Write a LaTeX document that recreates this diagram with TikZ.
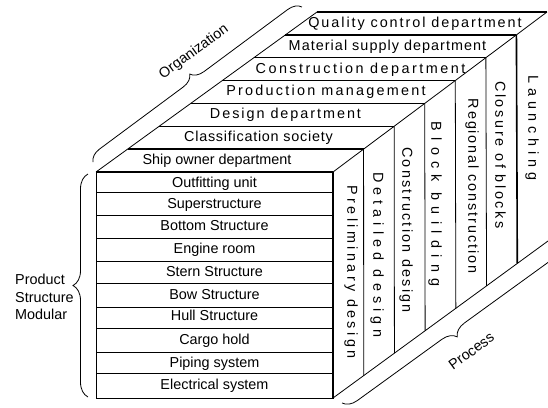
\documentclass[tikz,border=0pt]{standalone}
\usepackage{fontspec}
\setmainfont{Liberation Sans}
\usetikzlibrary{calc,decorations.pathreplacing}
\newcommand{\lsp}[2]{{\addfontfeature{LetterSpace=#1}#2}}
\begin{document}
\begin{tikzpicture}[x=1pt,y=-1pt,
  every node/.style={font=\fontsize{14.4}{17.5}\selectfont, inner sep=0pt},
  lbl/.style={text height=10.5pt, text depth=3pt},
  vlbl/.style={lbl, rotate=-90},
  ln/.style={line width=0.8pt},
  thk/.style={line width=1.6pt},
  brc/.style={decorate, decoration={brace, amplitude=#1, aspect=0.5}, line width=0.8pt},
  brc/.default=14pt]
\useasboundingbox (0,0) rectangle (548,407);
\clip (0,0) rectangle (548,407);
% corners
\coordinate (A) at (96,172);
\coordinate (B) at (333,172);
\coordinate (C) at (333,398);
\coordinate (D) at (96,398);
\coordinate (E) at (317,12);
\coordinate (F) at (547,12);
\coordinate (G) at (548,241);
% front face
\draw[ln] (A) rectangle (C);
\foreach \y in {192,215,238,261,283,307,328,352,373}
  \draw[ln] (96,\y) -- (333,\y);
% top face
\draw[ln] (A) -- (E);
\draw[ln] (B) -- (F);
\draw[thk] (E) -- (F);
\foreach \i in {2,3,4,5}
  \draw[ln] ($(A)!\i/7!(E)$) -- ($(B)!\i/7!(F)$);
\draw[thk] ($(A)!1/7!(E)$) -- ($(B)!1/7!(F)$);
\draw[thk] ($(A)!6/7!(E)$) -- ($(B)!6/7!(F)$);
\draw[thk] (A) -- (B);
% right face
\draw[ln] (C) -- (G);
\draw[thk] (B) -- (C);
\foreach \j in {1,2,3,4,5}
  \draw[ln] ($(B)!\j/7!(F)$) -- ($(C)!\j/7!(G)$);
\draw[thk] ($(B)!6/7!(F)$) -- ($(C)!6/7!(G)$);
% product rows
\node[lbl] (r1) at (214.5,183.5) {Outfitting unit};
\node[lbl] (r2) at (214.5,205) {Superstructure};
\node[lbl] (r3) at (214.5,227) {Bottom Structure};
\node[lbl] (r4) at (214.5,250) {Engine room};
\node[lbl] (r5) at (214.5,272.5) {Stern Structure};
\node[lbl] (r6) at (214.5,295.5) {Bow Structure};
\node[lbl] (r7) at (214.5,317) {Hull Structure};
\node[lbl] (r8) at (214.5,341) {Cargo hold};
\node[lbl] (r9) at (214.5,364) {Piping system};
\node[lbl] (r10) at (214.5,386) {Electrical system};
% organization strips
\node[lbl] (o1) at (217,161) {Ship owner department};
\node[lbl] (o2) at (258.5,138) {\lsp{5.2}{Classification society}};
\node[lbl] (o3) at (285.5,115) {\lsp{13.6}{Design department}};
\node[lbl] (o4) at (326,92) {\lsp{15.5}{Production management}};
\node[lbl] (o5) at (360.5,69.5) {\lsp{17.2}{Construction department}};
\node[lbl] (o6) at (387.5,46.5) {\lsp{7.2}{Material supply department}};
\node[lbl] (o7) at (415,23.5) {\lsp{13.4}{Quality control department}};
% process columns
\node[vlbl] (p1) at (351,272) {\lsp{23.8}{Preliminary design}};
\node[vlbl] (p2) at (377,255) {\lsp{35.6}{Detailed design}};
\node[vlbl] (p3) at (406,230) {\lsp{15.7}{Construction design}};
\node[vlbl] (p4) at (435,204) {\lsp{44}{Block building}};
\node[vlbl] (p5) at (472,186) {\lsp{13.1}{Regional construction}};
\node[vlbl] (p6) at (499,155) {\lsp{18.6}{Closure of blocks}};
\node[vlbl] (p7) at (532,128) {\lsp{33.6}{Launching}};
% braces
\coordinate (pb1) at (88,397);
\coordinate (pb2) at (88,174);
\draw[brc=15pt] (pb1) -- (pb2);
\node[anchor=west, align=left] (prod) at (15,297) {Product\\Structure\\Modular};
\coordinate (ob1) at (93,162);
\coordinate (ob2) at (302,7);
\draw[brc=13pt] (ob1) -- (ob2);
\node[lbl, rotate=36] (org) at (194,52) {Organization};
\coordinate (qb1) at (556,248);
\coordinate (qb2) at (342,403);
\draw[brc=14pt] (qb1) -- (qb2);
\node[lbl, rotate=36] (proc) at (472,352) {Process};
\end{tikzpicture}
\end{document}
